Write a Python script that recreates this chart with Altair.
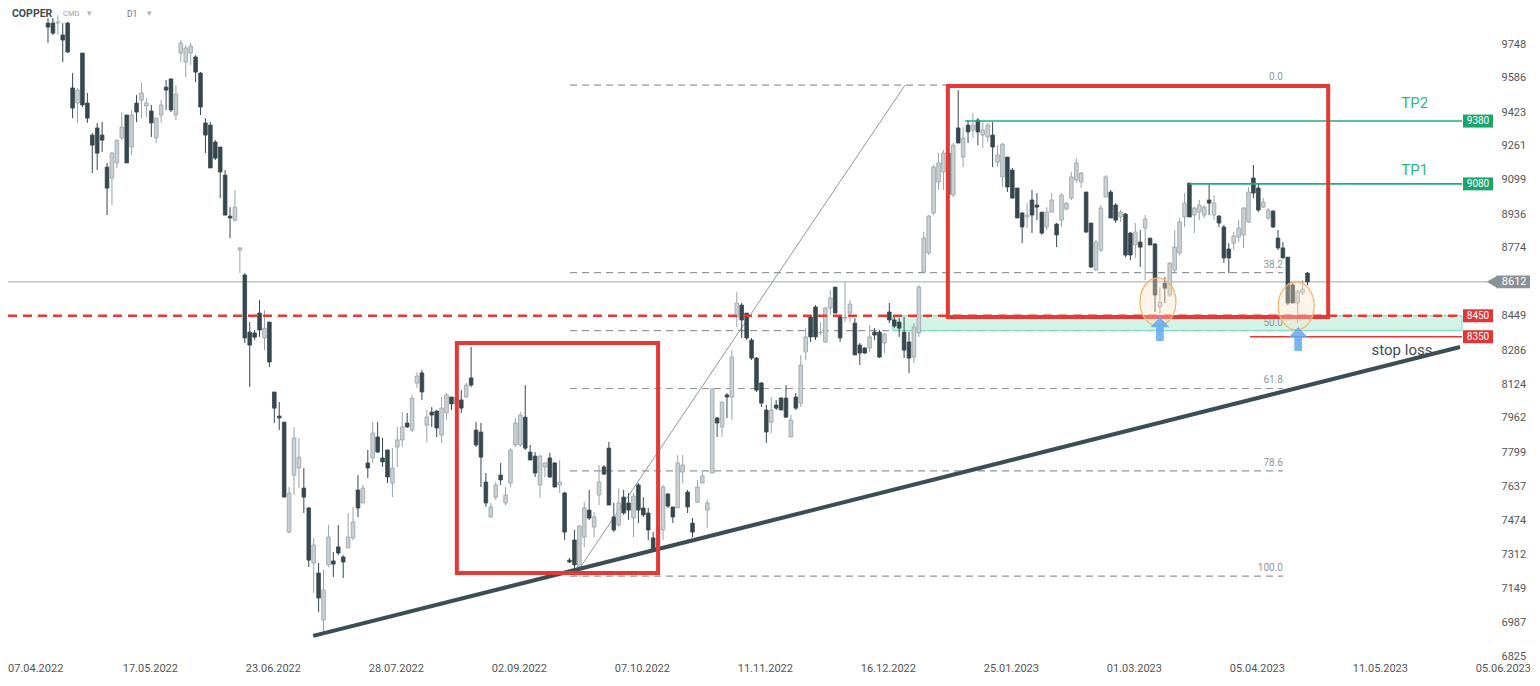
import altair as alt
import pandas as pd
import numpy as np

# ---------------- data ----------------
OPEN = [9848,9848,9848,9791,9848,9538,9466,9705,9466,9313,9347,9313,9160,9108,9180,9299,9409,9256,9466,9480,
        9452,9428,9299,9409,9542,9581,9409,9705,9662,9705,9686,9609,9371,9361,9280,9256,9122,8926,8907,8764,
        8645,8372,8368,8463,8344,8420,8086,7971,7942,7417,7689,7723,7627,7532,7269,7221,6997,7260,7279,7346,
        7298,7341,7389,7618,7556,7747,7771,7871,7771,7809,7651,7823,7857,7938,7904,8129,8177,7928,7990,7995,
        7880,7986,8062,8030,8048,8062,8153,7904,7895,7656,7489,7584,7689,7556,7651,7833,7833,7966,7799,7780,
        7642,7728,7771,7747,7642,7604,7283,7379,7236,7393,7522,7441,7594,7728,7818,7489,7451,7584,7556,7484,
        7642,7532,7508,7389,7340,7427,7599,7537,7532,7704,7608,7460,7560,7651,7522,7699,7962,7919,8072,8062,
        8444,8501,8463,8334,8248,8129,8000,7942,8024,8057,8057,7871,8062,8033,8277,8444,8492,8370,8325,8487,
        8587,8444,8439,8463,8415,8310,8296,8296,8372,8372,8320,8468,8430,8420,8372,8325,8253,8368,8659,8750,
        8941,9089,9137,9227,9027,9347,9208,9361,9337,9385,9313,9304,9313,9184,9113,9208,9146,9060,8941,8922,
        9003,8979,8945,8874,8945,8888,8907,8960,9012,9098,9089,9041,8893,8668,8764,9017,9041,8979,8922,8936,
        8845,8788,8802,8869,8821,8793,8492,8606,8549,8668,8750,8922,9084,8931,8945,8931,9003,8931,8926,8874,
        8769,8797,8826,8836,8898,9108,9060,8969,8917,8950,8821,8774,8730,8597,8511,8559,8654]
HIGH = [9872,9872,9886,9848,9853,9609,9538,9705,9514,9323,9371,9375,9180,9232,9289,9423,9409,9433,9504,9562,
        9490,9457,9394,9480,9576,9585,9552,9767,9743,9753,9695,9614,9394,9375,9289,9256,9146,8969,9051,8778,
        8654,8420,8382,8525,8477,8420,8086,8038,7942,7632,7919,7866,7723,7537,7389,7269,7236,7451,7322,7451,
        7307,7508,7537,7689,7642,7809,7942,7942,7866,7809,7818,7919,7990,7986,8072,8181,8191,8000,8014,8000,
        8062,8081,8062,8110,8095,8129,8301,7942,7938,7699,7556,7656,7747,7632,7818,7962,7990,8119,7833,7799,
        7785,7752,7795,7752,7761,7608,7293,7427,7451,7560,7618,7513,7737,7737,7847,7556,7627,7618,7603,7603,
        7651,7584,7532,7417,7475,7642,7603,7537,7785,7785,7618,7484,7666,7713,7570,8105,7966,8038,8081,8286,
        8563,8511,8463,8344,8253,8134,8024,8062,8048,8062,8119,7976,8081,8262,8391,8454,8501,8420,8492,8573,
        8587,8454,8611,8525,8439,8320,8300,8406,8391,8382,8368,8511,8444,8439,8444,8372,8415,8597,8850,8931,
        9170,9227,9242,9250,9275,9528,9351,9385,9418,9394,9375,9371,9375,9265,9275,9208,9156,9060,8945,8988,
        9051,9036,8945,8969,9036,8893,9036,8993,9137,9203,9137,9041,8893,8812,8979,9122,9051,8988,8955,8941,
        8850,8893,8860,8931,8821,8797,8587,8635,8707,8860,8917,9036,9084,8969,9003,8979,9084,9027,8931,8884,
        8797,8850,8907,8969,9065,9170,9084,9012,8965,8955,8860,8802,8730,8606,8573,8621,8659]
LOW = [9753,9791,9791,9662,9705,9394,9371,9447,9371,9132,9146,9232,8931,8979,9156,9289,9180,9218,9375,9394,
       9399,9304,9275,9371,9433,9423,9385,9662,9590,9648,9566,9409,9227,9156,9194,9012,8931,8821,8898,8654,
       8320,8110,8334,8349,8286,8205,7938,7904,7584,7412,7594,7627,7508,7250,7126,7035,6925,7250,7202,7307,
       7197,7341,7379,7489,7556,7675,7747,7795,7728,7651,7584,7728,7823,7914,7895,8105,8048,7847,7919,7871,
       7842,7952,8000,8005,7986,8057,8110,7823,7632,7537,7484,7570,7642,7546,7632,7823,7823,7809,7761,7680,
       7580,7680,7675,7632,7604,7379,7269,7212,7202,7346,7475,7393,7546,7689,7546,7417,7441,7499,7475,7393,
       7460,7489,7379,7322,7330,7379,7532,7460,7532,7651,7508,7393,7556,7651,7436,7699,7871,7871,7962,7952,
       8396,8344,8334,8239,8086,8014,7842,7890,8000,8000,7962,7871,8000,8014,8239,8325,8334,8358,8320,8454,
       8463,8325,8420,8420,8263,8215,8268,8277,8334,8248,8272,8415,8391,8349,8248,8176,8224,8349,8659,8740,
       8931,9051,9051,9010,9017,9275,9160,9275,9299,9265,9251,9280,9160,9160,9065,9041,9012,8917,8797,8869,
       8845,8907,8836,8860,8945,8778,8874,8955,9003,9084,9060,8845,8678,8668,8754,9017,8917,8893,8898,8730,
       8716,8726,8683,8621,8788,8468,8454,8511,8540,8659,8740,8874,8922,8845,8907,8917,8931,8907,8874,8702,
       8654,8764,8802,8774,8893,9012,8945,8965,8907,8869,8764,8726,8501,8511,8415,8549,8597]
CLOSE = [9829,9800,9853,9767,9710,9442,9528,9457,9394,9265,9227,9289,9060,9227,9289,9351,9180,9409,9423,9514,
         9466,9371,9394,9457,9528,9433,9509,9753,9729,9738,9614,9447,9313,9156,9203,9137,8931,8917,8969,8774,
         8344,8310,8348,8382,8391,8229,8009,7962,7584,7603,7866,7775,7584,7283,7355,7102,7140,7393,7264,7317,
         7274,7393,7465,7532,7627,7723,7890,7799,7752,7680,7723,7857,7919,7919,8057,8162,8086,7966,7976,7914,
         8009,8072,8029,8060,8009,8119,8119,7833,7775,7556,7537,7642,7666,7594,7809,7938,7976,7818,7761,7699,
         7780,7747,7680,7632,7656,7417,7274,7260,7446,7532,7484,7489,7656,7694,7546,7427,7556,7508,7522,7589,
         7522,7499,7427,7331,7440,7632,7541,7489,7747,7737,7537,7417,7632,7685,7556,8100,7938,8038,8062,8253,
         8511,8430,8344,8248,8095,8033,7895,8000,8009,8000,7966,7952,8009,8215,8349,8349,8349,8372,8487,8535,
         8463,8344,8444,8506,8263,8272,8272,8349,8358,8253,8363,8430,8401,8391,8286,8248,8396,8587,8821,8926,
         9160,9180,9227,9030,9265,9275,9299,9328,9361,9328,9337,9361,9256,9218,9270,9065,9012,8917,8874,8931,
         8931,8969,8845,8945,9003,8836,9027,8988,9113,9180,9132,8850,8683,8802,8965,9113,8917,8907,8945,8740,
         8740,8850,8778,8912,8788,8549,8515,8582,8702,8778,8898,8988,8922,8965,8979,8969,8988,8988,8893,8726,
         8726,8831,8869,8965,9041,9036,8955,8993,8955,8874,8774,8726,8511,8511,8568,8578,8612]

DATE_LABELS = ["07.04.2022", "17.05.2022", "23.06.2022", "28.07.2022", "02.09.2022", "07.10.2022",
               "11.11.2022", "16.12.2022", "25.01.2023", "01.03.2023", "05.04.2023", "11.05.2023", "05.06.2023"]
DATE_POS = [-2.6, 20.7, 45.7, 70.7, 95.7, 120.7, 145.7, 170.7, 195.7, 220.7, 245.7, 270.7, 295.7]
PRICE_TICKS = [9748, 9586, 9423, 9261, 9099, 8936, 8774, 8449, 8286, 8124, 7962, 7799, 7637,
               7474, 7312, 7149, 6987, 6825]

FIB_TOP, FIB_BOTTOM = 9552, 7207
FIB_LEVELS = [0, 38.2, 50, 61.8, 78.6, 100]
FIB_TEXT = ["0.0", "38.2", "50.0", "61.8", "78.6", "100.0"]

LAST_PRICE = 8612
ENTRY, STOP, TP1, TP2 = 8450, 8350, 9080, 9380
ZONE_LOW = 8380

# ---------------- styling ----------------
FONT = "Roboto"
BEAR = "#37474f"
BULL_FILL = "#c9cfd2"
BULL_EDGE = "#98a3a9"
RED = "#e53935"
GREEN = "#1fae7a"
GRAY_TXT = "#555555"

XS = alt.Scale(domain=[-8.13, 301.22], nice=False, zero=False)
YS = alt.Scale(domain=[6806, 9920], nice=False, zero=False)

xaxis = alt.Axis(values=DATE_POS, labelExpr="%s[round((datum.value + 4.3) / 25)]" % str(DATE_LABELS),
                 domain=False, ticks=False, tickSize=0, grid=False, labelPadding=2, labelFont=FONT,
                 labelFontSize=11, labelColor=GRAY_TXT, labelOverlap=False, labelFlush=False, title="")
yaxis = alt.Axis(values=PRICE_TICKS, orient="right", offset=-29, domain=False, ticks=False, tickSize=0,
                 grid=False, labelPadding=0, labelFont=FONT, labelFontSize=11, labelColor=GRAY_TXT,
                 labelAlign="left", labelOverlap=False, labelFlush=False, title="", format="d")


def X(field):
    return alt.X(field, scale=XS, axis=xaxis)


def Y(field):
    return alt.Y(field, scale=YS, axis=yaxis)


df = pd.DataFrame({"i": np.arange(len(OPEN)), "o": OPEN, "h": HIGH, "l": LOW, "c": CLOSE})
df["dir"] = np.where(df["c"] >= df["o"], "up", "down")
dir_scale_fill = alt.Scale(domain=["up", "down"], range=[BULL_FILL, BEAR])
dir_scale_edge = alt.Scale(domain=["up", "down"], range=[BULL_EDGE, BEAR])

wicks = alt.Chart(df).mark_rule(strokeWidth=1).encode(
    x=X("i:Q"), y=Y("l:Q"), y2="h:Q",
    color=alt.Color("dir:N", scale=dir_scale_edge, legend=None))
bodies = alt.Chart(df).transform_calculate(x0="datum.i - 0.37", x1="datum.i + 0.37").mark_rect(
    strokeWidth=0.8).encode(
    x=X("x0:Q"), x2="x1:Q", y=Y("o:Q"), y2="c:Q",
    fill=alt.Fill("dir:N", scale=dir_scale_fill, legend=None),
    stroke=alt.Stroke("dir:N", scale=dir_scale_edge, legend=None))

# fibonacci levels
fib = pd.DataFrame({"lvl": FIB_LEVELS, "txt": FIB_TEXT})
fib["p"] = FIB_TOP - fib["lvl"] / 100.0 * (FIB_TOP - FIB_BOTTOM)
fib["x0"] = 106.1
fib["x1"] = 251.0
fib_lines = alt.Chart(fib).mark_rule(strokeDash=[7, 5], color="#8e969a", strokeWidth=1.2).encode(
    x=X("x0:Q"), x2="x1:Q", y=Y("p:Q"))
fib_text = alt.Chart(fib).mark_text(align="right", dy=-8, font=FONT, fontSize=10, color="#8e969a").encode(
    x=X("x1:Q"), y=Y("p:Q"), text="txt:N")
fib_diag = alt.Chart(pd.DataFrame({"x": [107.0, 174.2], "p": [FIB_BOTTOM, FIB_TOP]})).mark_line(
    color="#8e969a", strokeWidth=1).encode(x=X("x:Q"), y=Y("p:Q"))

# green zone
zone = alt.Chart(pd.DataFrame({"x0": [171.7], "x1": [287.4], "p0": [ZONE_LOW], "p1": [ENTRY]})).mark_rect(
    fill="#62d3a8", fillOpacity=0.28, stroke="#7fdcb9", strokeWidth=1).encode(
    x=X("x0:Q"), x2="x1:Q", y=Y("p0:Q"), y2="p1:Q")

# horizontal levels
last_line = alt.Chart(pd.DataFrame({"x0": [-8.13], "x1": [293.1], "p": [LAST_PRICE]})).mark_rule(
    color="#9ea4a7", strokeWidth=1).encode(x=X("x0:Q"), x2="x1:Q", y=Y("p:Q"))
entry_line = alt.Chart(pd.DataFrame({"x0": [-8.13], "x1": [287.4], "p": [ENTRY]})).mark_rule(
    color=RED, strokeWidth=2.5, strokeDash=[9, 6]).encode(x=X("x0:Q"), x2="x1:Q", y=Y("p:Q"))
stop_line = alt.Chart(pd.DataFrame({"x0": [244.3], "x1": [287.4], "p": [STOP]})).mark_rule(
    color=RED, strokeWidth=1.6).encode(x=X("x0:Q"), x2="x1:Q", y=Y("p:Q"))
tp_lines = alt.Chart(pd.DataFrame({"x0": [186.4, 232.0], "x1": [287.4, 287.4], "p": [TP2, TP1]})).mark_rule(
    color=GREEN, strokeWidth=1.6).encode(x=X("x0:Q"), x2="x1:Q", y=Y("p:Q"))

# trend line
trend = alt.Chart(pd.DataFrame({"x": [53.9, 287.0], "p": [6921, 8301]})).mark_line(
    color="#3d4d55", strokeWidth=4).encode(x=X("x:Q"), y=Y("p:Q"))

# red boxes
boxes = alt.Chart(pd.DataFrame({"x0": [83.1, 182.9], "x1": [124.0, 260.2],
                                "p0": [7221, 8444], "p1": [8320, 9548]})).mark_rect(
    fillOpacity=0, stroke=RED, strokeWidth=4).encode(x=X("x0:Q"), x2="x1:Q", y=Y("p0:Q"), y2="p1:Q")

# circles and arrows
ELLIPSE = "M0,-1A0.75,1,0,1,1,0,1A0.75,1,0,1,1,0,-1Z"
ARROW = "M0,-1L0.8,-0.15L0.32,-0.15L0.32,1L-0.32,1L-0.32,-0.15L-0.8,-0.15Z"
circles = alt.Chart(pd.DataFrame({"x": [225.6, 253.7], "p": [8516, 8497]})).mark_point(
    shape=ELLIPSE, size=2304, filled=True, fill="#fde3c3", fillOpacity=0.35, stroke="#f5b46f",
    strokeWidth=1.3, opacity=1).encode(x=X("x:Q"), y=Y("p:Q"))
arrows = alt.Chart(pd.DataFrame({"x": [226.0, 254.1], "p": [8387, 8339]})).mark_point(
    shape=ARROW, size=576, filled=True, color="#5fa9ef", opacity=0.85).encode(x=X("x:Q"), y=Y("p:Q"))

# texts
notes = pd.DataFrame({"x": [277.8, 277.8], "p": [9466, 9146], "t": ["TP2", "TP1"]})
tp_text = alt.Chart(notes).mark_text(font=FONT, fontSize=15, color="#2db783").encode(
    x=X("x:Q"), y=Y("p:Q"), text="t:N")
stop_text = alt.Chart(pd.DataFrame({"x": [275.2], "p": [8286], "t": ["stop loss"]})).mark_text(
    font=FONT, fontSize=15, color="#3f4a50").encode(x=X("x:Q"), y=Y("p:Q"), text="t:N")


# price tags at the right
def tag_layers(prices, texts, fill):
    t = pd.DataFrame({"p": prices, "t": texts})
    t["x0"] = 287.6
    t["x1"] = 293.7
    t["xm"] = 290.65
    t["p0"] = t["p"] - 31
    t["p1"] = t["p"] + 31
    r = alt.Chart(t).mark_rect(fill=fill).encode(x=X("x0:Q"), x2="x1:Q", y=Y("p0:Q"), y2="p1:Q")
    s = alt.Chart(t).mark_text(font=FONT, fontSize=10, color="white").encode(
        x=X("xm:Q"), y=Y("p:Q"), text="t:N")
    return [r, s]


green_tags = tag_layers([TP2, TP1], ["9380", "9080"], "#1aa56f")
red_tags = tag_layers([ENTRY, STOP], ["8450", "8350"], "#e0363a")

last_df = pd.DataFrame({"x0": [294.4], "x1": [301.3], "xt": [293.5], "xm": [298.0],
                        "p0": [LAST_PRICE - 30], "p1": [LAST_PRICE + 30], "p": [LAST_PRICE],
                        "t": [str(LAST_PRICE)]})
last_rect = alt.Chart(last_df).mark_rect(fill="#8a9296").encode(
    x=X("x0:Q"), x2="x1:Q", y=Y("p0:Q"), y2="p1:Q")
last_tri = alt.Chart(last_df).mark_point(shape="triangle-left", size=150, filled=True, fill="#8a9296",
                                         opacity=1).encode(x=X("xt:Q"), y=Y("p:Q"))
last_txt = alt.Chart(last_df).mark_text(font=FONT, fontSize=11, color="white").encode(
    x=X("xm:Q"), y=Y("p:Q"), text="t:N")

# header
hdr = pd.DataFrame({"t": ["x"]})
h1 = alt.Chart(hdr).mark_text(text="COPPER", font=FONT, fontSize=10.5, fontWeight="bold", color="#3d4a52",
                              align="left").encode(x=alt.value(4), y=alt.value(6))
h2 = alt.Chart(hdr).mark_text(text="CMD", font=FONT, fontSize=7.5, color="#9aa3a8",
                              align="left").encode(x=alt.value(55), y=alt.value(6))
h3 = alt.Chart(hdr).mark_text(text="▾", font=FONT, fontSize=9, color="#aab1b5",
                              align="left").encode(x=alt.value(79), y=alt.value(5))
h4 = alt.Chart(hdr).mark_text(text="D1", font=FONT, fontSize=8.5, color="#6b767c",
                              align="left").encode(x=alt.value(119), y=alt.value(6))
h5 = alt.Chart(hdr).mark_text(text="▾", font=FONT, fontSize=9, color="#aab1b5",
                              align="left").encode(x=alt.value(139), y=alt.value(5))

chart = alt.layer(
    fib_lines, fib_diag, zone, last_line, wicks, bodies, fib_text, stop_line, tp_lines, entry_line,
    trend, boxes, circles, arrows, tp_text, stop_text, *green_tags, *red_tags, last_rect, last_tri, last_txt,
    h1, h2, h3, h4, h5
).properties(
    width=1522, height=652,
    autosize=alt.AutoSizeParams(type="none"),
    padding={"left": 0, "top": 0, "right": 0, "bottom": 16},
    background="white"
).configure_view(stroke=None)

chart.save("out.html", embed_options={"renderer": "svg", "actions": False})
